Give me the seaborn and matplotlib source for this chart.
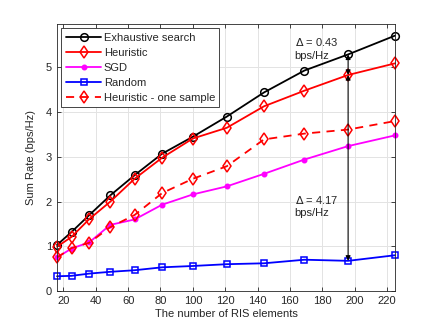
import matplotlib
matplotlib.use("Agg")
import matplotlib.pyplot as plt
import seaborn as sns
import pandas as pd

# Data
ris_elements = [16, 25, 36, 49, 64, 81, 100, 121, 144, 169, 196, 225]
exhaustive = [1.03, 1.32, 1.70, 2.14, 2.59, 3.07, 3.45, 3.90, 4.44, 4.93, 5.29, 5.71]
heuristic = [0.99, 1.21, 1.61, 2.00, 2.51, 2.98, 3.41, 3.65, 4.13, 4.48, 4.83, 5.09]
sgd = [0.75, 0.95, 1.09, 1.48, 1.60, 1.93, 2.16, 2.34, 2.62, 2.94, 3.24, 3.48]
random_cfg = [0.33, 0.34, 0.39, 0.43, 0.465, 0.53, 0.56, 0.60, 0.62, 0.70, 0.675, 0.80]
heuristic_one = [0.75, 0.96, 1.08, 1.43, 1.70, 2.19, 2.51, 2.79, 3.39, 3.52, 3.61, 3.80]

x_ticks = [20, 40, 60, 80, 100, 120, 140, 160, 180, 200, 220]
y_ticks = [0, 1, 2, 3, 4, 5]

sns.set_style('ticks')
plt.rcParams['font.family'] = ['Liberation Sans', 'DejaVu Sans']

fig = plt.figure(figsize=(4.36, 3.27), dpi=100)
ax = fig.add_axes([0.1307, 0.110, 0.7753, 0.8166])

df = pd.DataFrame({'N': ris_elements, 'Exhaustive search': exhaustive,
                   'Heuristic': heuristic, 'SGD': sgd, 'Random': random_cfg,
                   'Heuristic - one sample': heuristic_one})

series = [
    ('Exhaustive search', 'black', 'o', '-', 5.5, 'none'),
    ('Heuristic', 'red', 'd', '-', 6, 'none'),
    ('SGD', '#ff00ff', 'o', '-', 3.2, '#ff00ff'),
    ('Random', '#0000ff', 's', '-', 4.8, 'none'),
    ('Heuristic - one sample', 'red', 'd', '--', 6, 'none'),
]

for name, color, marker, ls, ms, mfc in series:
    sns.lineplot(data=df, x='N', y=name, ax=ax, color=color, marker=marker,
                 linewidth=1.3, markersize=ms,
                 markerfacecolor=mfc, markeredgecolor=color,
                 markeredgewidth=1.1, label=name, clip_on=False)

# dashed line for the one-sample heuristic
ax.lines[-1].set_linestyle((0, (4.5, 3.5)))

ax.set_xlim(16, 225)
ax.set_ylim(0, 5.97)
ax.set_xticks(x_ticks)
ax.set_yticks(y_ticks)
ax.grid(True, color='#e3e3e3', linewidth=0.7)
ax.set_axisbelow(True)
ax.tick_params(direction='in', top=True, right=True, labelsize=8,
               colors='#262626', length=3, width=0.6)
for sp in ax.spines.values():
    sp.set_color('#262626')
    sp.set_linewidth(0.6)

ax.set_xlabel('The number of RIS elements', fontsize=8, color='#262626', labelpad=2)
ax.set_ylabel('Sum Rate (bps/Hz)', fontsize=8, color='#262626', labelpad=7)

# Delta annotations at N = 196
i = ris_elements.index(196)
ax.annotate('', xy=(196, exhaustive[i]), xytext=(196, heuristic[i]),
            arrowprops=dict(arrowstyle='<|-|>', color='black', lw=0.8,
                            mutation_scale=7, shrinkA=0, shrinkB=0))
ax.annotate('', xy=(196, heuristic[i]), xytext=(196, random_cfg[i]),
            arrowprops=dict(arrowstyle='<|-|>', color='black', lw=0.8,
                            mutation_scale=7, shrinkA=0, shrinkB=0))
ax.text(163, 5.42, '$\\Delta$ = 0.43\nbps/Hz', fontsize=8, color='#262626',
        va='center', ha='left', linespacing=1.3)
ax.text(163, 1.90, '$\\Delta$ = 4.17\nbps/Hz', fontsize=8, color='#262626',
        va='center', ha='left', linespacing=1.3)

leg = ax.legend(loc='upper left', fontsize=8, frameon=True, fancybox=False,
                framealpha=1, edgecolor='#262626', handlelength=3.2,
                handletextpad=0.2, borderpad=0.4, labelspacing=0.45,
                borderaxespad=0.4)
leg.get_frame().set_linewidth(0.6)

fig.savefig('out.png', dpi=100)
